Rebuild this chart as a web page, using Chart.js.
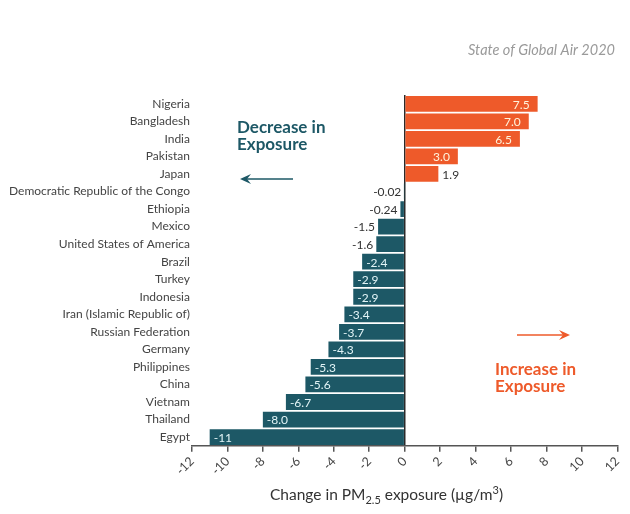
<!DOCTYPE html>
<html>
<head>
<meta charset="utf-8">
<script src="https://cdn.jsdelivr.net/npm/chart.js@4"></script>
<style>
  html, body { margin: 0; padding: 0; background: #fff; }
  #wrap { width: 630px; height: 514px; }
</style>
</head>
<body>
<div id="wrap"><canvas id="myChart"></canvas></div>
<script>
// countries, top to bottom
var countries = ['Nigeria', 'Bangladesh', 'India', 'Pakistan', 'Japan',
  'Democratic Republic of the Congo', 'Ethiopia', 'Mexico', 'United States of America',
  'Brazil', 'Turkey', 'Indonesia', 'Iran (Islamic Republic of)', 'Russian Federation',
  'Germany', 'Philippines', 'China', 'Vietnam', 'Thailand', 'Egypt'];
// change in PM2.5 exposure (µg/m3)
var change = [7.5, 7.0, 6.5, 3.0, 1.9, -0.02, -0.24, -1.5, -1.6, -2.4, -2.9, -2.9,
  -3.4, -3.7, -4.3, -5.3, -5.6, -6.7, -8.0, -11];
// labels printed on the bars
var valueLabels = ['7.5', '7.0', '6.5', '3.0', '1.9', '-0.02', '-0.24', '-1.5', '-1.6',
  '-2.4', '-2.9', '-2.9', '-3.4', '-3.7', '-4.3', '-5.3', '-5.6', '-6.7', '-8.0', '-11'];
var xTicks = [-12, -10, -8, -6, -4, -2, 0, 2, 4, 6, 8, 10, 12];

var orange = '#ee5a2a';
var teal = '#1d5866';

Chart.defaults.font.family = "Lato, 'Noto Sans', sans-serif";

//writes the numbers on or beside each bar
var barLabels = {
  id: 'barLabels',
  afterDatasetsDraw: function(chart) {
    var ctx = chart.ctx;
    var meta = chart.getDatasetMeta(0);
    ctx.save();
    ctx.font = "12px Lato, sans-serif";
    ctx.textBaseline = 'middle';
    meta.data.forEach(function(bar, i) {
      var v = change[i];
      var inside = Math.abs(v) >= 2.2;
      if (v >= 0) {
        if (inside) { ctx.textAlign = 'right'; ctx.fillStyle = '#fff3dc'; ctx.fillText(valueLabels[i], bar.x - 8, bar.y + 1); }
        else { ctx.textAlign = 'left'; ctx.fillStyle = '#333'; ctx.fillText(valueLabels[i], bar.x + 4, bar.y + 1); }
      } else {
        if (inside) { ctx.textAlign = 'left'; ctx.fillStyle = '#e2f4f7'; ctx.fillText(valueLabels[i], bar.x + 4, bar.y + 1); }
        else { ctx.textAlign = 'right'; ctx.fillStyle = '#333'; ctx.fillText(valueLabels[i], bar.x - 3, bar.y + 1); }
      }
    });
    ctx.restore();
  }
};

//notes, arrows, source and the axis title
var notes = {
  id: 'notes',
  afterDraw: function(chart) {
    var ctx = chart.ctx;
    ctx.save();
    ctx.textBaseline = 'alphabetic';

    ctx.font = "italic 14.5px Lato, sans-serif";
    ctx.fillStyle = '#9a9a9a';
    ctx.textAlign = 'right';
    ctx.fillText('State of Global Air 2020', 615, 55);

    ctx.textAlign = 'left';
    ctx.font = "bold 17px Lato, sans-serif";
    ctx.fillStyle = teal;
    ctx.fillText('Decrease in', 237, 133);
    ctx.fillText('Exposure', 237, 150);
    ctx.fillStyle = orange;
    ctx.fillText('Increase in', 495, 375);
    ctx.fillText('Exposure', 495, 392);

    function arrow(x1, x2, y, color) {
      var dir = x2 > x1 ? 1 : -1;
      ctx.strokeStyle = color;
      ctx.fillStyle = color;
      ctx.lineWidth = 1.5;
      ctx.beginPath();
      ctx.moveTo(x1, y);
      ctx.lineTo(x2 - dir * 6, y);
      ctx.stroke();
      ctx.beginPath();
      ctx.moveTo(x2, y);
      ctx.lineTo(x2 - dir * 11, y - 5);
      ctx.lineTo(x2 - dir * 7, y);
      ctx.lineTo(x2 - dir * 11, y + 5);
      ctx.closePath();
      ctx.fill();
    }
    arrow(293, 240, 179, teal);
    arrow(517, 570, 335, orange);

    // x axis title with sub/superscripts
    var x = 270, y = 500;
    ctx.fillStyle = '#333';
    var big = "15.5px Lato, sans-serif", small = "11px Lato, sans-serif";
    var parts = [['Change in PM', big, 0], ['2.5', small, 4], [' exposure (µg/m', big, 0], ['3', small, -6], [')', big, 0]];
    parts.forEach(function(p) {
      ctx.font = p[1];
      ctx.fillText(p[0], x, y + p[2]);
      x += ctx.measureText(p[0]).width;
    });
    ctx.restore();
  }
};

var ctx = document.getElementById('myChart').getContext('2d');

var myChart = new Chart(ctx, {
  type: 'bar',
  data: {
    labels: countries,
    datasets: [{
      data: change,
      backgroundColor: change.map(function(v) { return v >= 0 ? orange : teal; }),
      barPercentage: 0.9,
      categoryPercentage: 1.0
    }]
  },
  options: {
    indexAxis: 'y',
    responsive: true,
    maintainAspectRatio: false,
    animation: false,
    layout: { padding: { top: 95, right: -4, left: 7, bottom: 34 } },
    plugins: {
      legend: { display: false },
      tooltip: { enabled: false }
    },
    scales: {
      x: {
        min: -12,
        max: 12,
        afterBuildTicks: function(axis) {
          axis.ticks = xTicks.map(function(v) { return { value: v }; });
        },
        grid: {
          drawOnChartArea: true,
          color: function(c) { return c.tick && c.tick.value === 0 ? '#2a2a2a' : 'rgba(0,0,0,0)'; },
          lineWidth: 1.5,
          drawTicks: true,
          tickColor: '#555',
          tickLength: 6
        },
        border: { display: true, color: '#555', width: 1.5 },
        ticks: {
          color: '#444',
          font: { size: 12.5 },
          minRotation: 45,
          maxRotation: 45,
          padding: 2
        }
      },
      y: {
        grid: { display: false, drawTicks: false },
        border: { display: false },
        ticks: { color: '#444', font: { size: 12 }, padding: 2 }
      }
    }
  },
  plugins: [barLabels, notes]
});
</script>
</body>
</html>
